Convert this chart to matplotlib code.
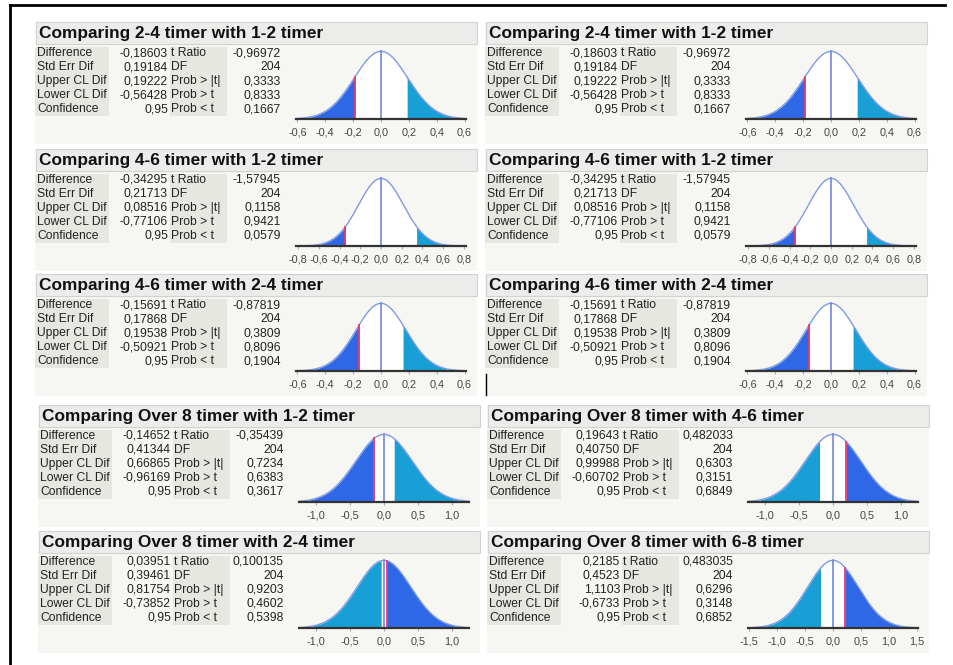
import numpy as np
import matplotlib.pyplot as plt
from matplotlib.patches import Rectangle

plt.rcParams['font.family'] = ['Liberation Sans', 'DejaVu Sans']

# Values (JMP output, comma decimals)
titles = [
    "Comparing 2-4 timer with 1-2 timer", "Comparing 2-4 timer with 1-2 timer",
    "Comparing 4-6 timer with 1-2 timer", "Comparing 4-6 timer with 1-2 timer",
    "Comparing 4-6 timer with 2-4 timer", "Comparing 4-6 timer with 2-4 timer",
    "Comparing Over 8 timer with 1-2 timer", "Comparing Over 8 timer with 4-6 timer",
    "Comparing Over 8 timer with 2-4 timer", "Comparing Over 8 timer with 6-8 timer",
]
difference = ["-0,18603", "-0,18603", "-0,34295", "-0,34295", "-0,15691", "-0,15691",
              "-0,14652", "0,19643", "0,03951", "0,2185"]
std_err = ["0,19184", "0,19184", "0,21713", "0,21713", "0,17868", "0,17868",
           "0,41344", "0,40750", "0,39461", "0,4523"]
upper_cl = ["0,19222", "0,19222", "0,08516", "0,08516", "0,19538", "0,19538",
            "0,66865", "0,99988", "0,81754", "1,1103"]
lower_cl = ["-0,56428", "-0,56428", "-0,77106", "-0,77106", "-0,50921", "-0,50921",
            "-0,96169", "-0,60702", "-0,73852", "-0,6733"]
confidence = ["0,95"] * 10
t_ratio = ["-0,96972", "-0,96972", "-1,57945", "-1,57945", "-0,87819", "-0,87819",
           "-0,35439", "0,482033", "0,100135", "0,483035"]
dof = ["204"] * 10
prob_abs = ["0,3333", "0,3333", "0,1158", "0,1158", "0,3809", "0,3809",
            "0,7234", "0,6303", "0,9203", "0,6296"]
prob_gt = ["0,8333", "0,8333", "0,9421", "0,9421", "0,8096", "0,8096",
           "0,6383", "0,3151", "0,4602", "0,3148"]
prob_lt = ["0,1667", "0,1667", "0,0579", "0,0579", "0,1904", "0,1904",
           "0,3617", "0,6849", "0,5398", "0,6852"]
axis_lim = [0.61, 0.61, 0.82, 0.82, 0.61, 0.61, 1.25, 1.25, 1.25, 1.52]
axis_ticks = [
    [-0.6, -0.4, -0.2, 0.0, 0.2, 0.4, 0.6], [-0.6, -0.4, -0.2, 0.0, 0.2, 0.4, 0.6],
    [-0.8, -0.6, -0.4, -0.2, 0.0, 0.2, 0.4, 0.6, 0.8], [-0.8, -0.6, -0.4, -0.2, 0.0, 0.2, 0.4, 0.6, 0.8],
    [-0.6, -0.4, -0.2, 0.0, 0.2, 0.4, 0.6], [-0.6, -0.4, -0.2, 0.0, 0.2, 0.4, 0.6],
    [-1.0, -0.5, 0.0, 0.5, 1.0], [-1.0, -0.5, 0.0, 0.5, 1.0],
    [-1.0, -0.5, 0.0, 0.5, 1.0], [-1.5, -1.0, -0.5, 0.0, 0.5, 1.0, 1.5],
]
row_labels = ["Difference", "Std Err Dif", "Upper CL Dif", "Lower CL Dif", "Confidence"]
stat_labels = ["t Ratio", "DF", "Prob > |t|", "Prob > t", "Prob < t"]

# panel origins (top-left of title bar) in pixels
origins = [(35, 22), (485, 22), (35, 149), (485, 149), (35, 274), (485, 274),
           (38, 405), (487, 405), (38, 531), (487, 531)]

W, H = 954, 665
PANEL_BG = '#f6f6f3'
CELL_BG = '#e7e7e1'
DARK = '#2f68e6'
CYAN = '#179fd6'

fig = plt.figure(figsize=(W / 100, H / 100), dpi=100)
bg = fig.add_axes([0, 0, 1, 1])
bg.set_xlim(0, W)
bg.set_ylim(H, 0)
bg.axis('off')

# outer frame (top and left edges visible)
bg.plot([10, 945], [5, 5], color='black', lw=2)
bg.plot([10, 10], [5, 665], color='black', lw=2)


def num(s):
    return float(s.replace(',', '.'))


def fmt(v):
    return f"{v:.1f}".replace('.', ',')


for i in range(len(titles)):
    x0, y0 = origins[i]
    # panel background and title bar
    bg.add_patch(Rectangle((x0, y0), 442, 122, color=PANEL_BG, lw=0))
    bg.add_patch(Rectangle((x0 + 1, y0), 441, 22, facecolor='#ececea', edgecolor='#d2d2d0', lw=0.8))
    bg.text(x0 + 4, y0 + 11.5, titles[i], fontsize=12.4, fontweight='bold', va='center', ha='left', color='#111')

    # table cell shading
    bg.add_patch(Rectangle((x0, y0 + 25), 74, 69, color=CELL_BG, lw=0))
    bg.add_patch(Rectangle((x0 + 135, y0 + 25), 57, 69, color=CELL_BG, lw=0))
    col1 = [difference[i], std_err[i], upper_cl[i], lower_cl[i], confidence[i]]
    col3 = [t_ratio[i], dof[i], prob_abs[i], prob_gt[i], prob_lt[i]]
    for r in range(5):
        yy = y0 + 31 + 14 * r
        bg.text(x0 + 2, yy, row_labels[r], fontsize=8.7, va='center', ha='left', color='#222')
        bg.text(x0 + 133, yy, col1[r], fontsize=8.7, va='center', ha='right', color='#222')
        bg.text(x0 + 136, yy, stat_labels[r], fontsize=8.7, va='center', ha='left', color='#222')
        bg.text(x0 + 246, yy, col3[r], fontsize=8.7, va='center', ha='right', color='#222')

    # distribution curve
    se = num(std_err[i])
    d = num(difference[i])
    a = abs(d)
    lim = axis_lim[i]
    pdf = lambda v: np.exp(-0.5 * (v / se) ** 2) / (se * np.sqrt(2 * np.pi))
    peak = pdf(0)
    ax_x, ax_top, ax_w, ax_h = x0 + 261, y0 + 28, 170, 69
    ax = fig.add_axes([ax_x / W, 1 - (ax_top + ax_h) / H, ax_w / W, ax_h / H])
    ax.patch.set_alpha(0)
    xs = np.linspace(-lim, lim, 500)
    left = np.append(xs[xs < -a], -a)
    right = np.insert(xs[xs > a], 0, a)
    mid = np.linspace(-a, a, 50)
    left_col, right_col = (DARK, CYAN) if d < 0 else (CYAN, DARK)
    ax.fill_between(left, 0, pdf(left), color=left_col, lw=0)
    ax.fill_between(right, 0, pdf(right), color=right_col, lw=0)
    ax.fill_between(mid, 0, pdf(mid), color='white', lw=0)
    ax.plot(xs, pdf(xs), color='#7f9be2', lw=1)
    ax.plot([0, 0], [0, peak], color='#6f86e0', lw=1.2)
    ax.plot([d, d], [0, pdf(d)], color='#e8376d', lw=1.3)
    ax.axhline(0, color='#333333', lw=1.6, clip_on=False)
    ax.set_xlim(-lim, lim)
    ax.set_ylim(0, peak * 1.02)
    for s in ax.spines.values():
        s.set_visible(False)
    ax.set_yticks([])
    ax.set_xticks(axis_ticks[i])
    ax.set_xticklabels([fmt(t) for t in axis_ticks[i]])
    ax.tick_params(axis='x', length=2, color='#aaaaaa', labelsize=7.8, labelcolor='#444444', pad=4)

# text cursor mark seen in the screenshot
bg.plot([486, 486], [374, 395], color='black', lw=1)

fig.savefig('out.png', dpi=100)
